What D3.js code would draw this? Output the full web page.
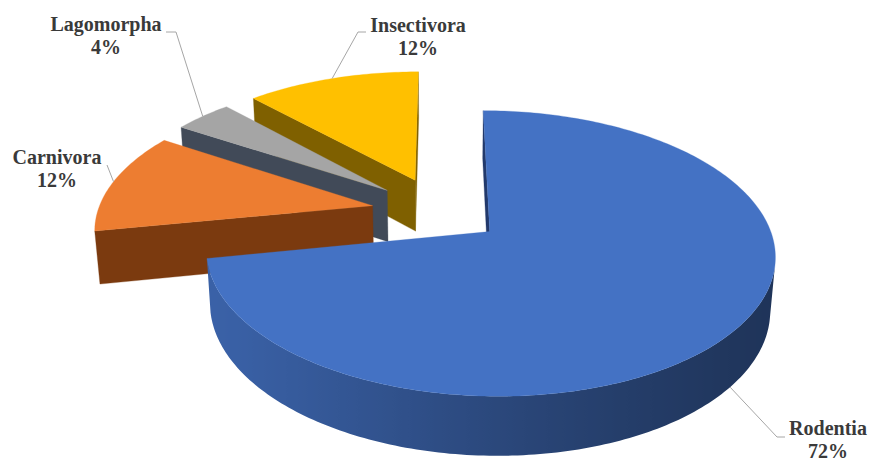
<!DOCTYPE html>
<html>
<head>
<meta charset="utf-8">
<script src="https://cdn.jsdelivr.net/npm/d3@7"></script>
<style>
  html, body { margin: 0; padding: 0; background: #ffffff; }
  svg { display: block; }
</style>
</head>
<body>
<svg id="chart" width="869" height="463"></svg>
<script>
// ---- data ----
const categories = ["Rodentia", "Carnivora", "Lagomorpha", "Insectivora"];
const shares = [72, 12, 4, 12];
const shareLabels = ["72%", "12%", "4%", "12%"];

// ---- style ----
const topColors = ["#4472C4", "#ED7D31", "#A5A5A5", "#FFC000"];
const faceColors = ["#22396b", "#7b3a0f", "#414a58", "#7f6000"];
const explode = [0.225, 0.255, 0.26, 0.265];   // radial offset of each slice (unit radius)

// perspective camera for a pie of unit radius lying flat (Z toward viewer, Y = depth of the disc)
const cam = { x0: 441, y0: 212, a: 275, b: 133.5, p: 0.15, t: 53, g: 0.015 };
function project(X, Z, Y) {
  const w = 1 - cam.p * Z + cam.g * Y;
  return [cam.x0 + cam.a * X / w, cam.y0 + (cam.b * Z + cam.t * Y) / w];
}

// label placement
const labelLayout = [
  { x: 828, y: 435, anchorDepth: 1, path: [[777, 437], [785, 437]] },
  { x: 57,  y: 164, anchorDepth: 0, path: [[107, 165]] },
  { x: 106, y: 31,  anchorDepth: 0, path: [[176, 32], [166, 32]] },
  { x: 418, y: 32,  anchorDepth: 0, path: [[358, 32], [366, 32]] }
];

const svg = d3.select("#chart");
const defs = svg.append("defs");
const line = d3.line();

const arcs = d3.pie().sort(null).value(d => d)(shares);

const slices = arcs.map((d, i) => {
  const am = (d.startAngle + d.endAngle) / 2;
  const e = explode[i];
  return { i, a0: d.startAngle, a1: d.endAngle, am,
           ox: e * Math.sin(am), oz: -e * Math.cos(am) };
});

function rimPoint(s, th) {
  return { X: s.ox + Math.sin(th), Z: s.oz - Math.cos(th) };
}

function shoelace(poly) {
  let s = 0;
  for (let k = 0; k < poly.length; k++) {
    const p = poly[k], q = poly[(k + 1) % poly.length];
    s += p[0] * q[1] - q[0] * p[1];
  }
  return s / 2;
}

function shade(hex, th) {
  const f = 0.45 + 0.4 * Math.pow((1 + Math.cos(th - 250 * Math.PI / 180)) / 2, 2);
  const c = d3.rgb(hex);
  return d3.rgb(c.r * f, c.g * f, c.b * f).formatHex();
}

const gSlices = svg.append("g");
let gradId = 0;

// draw one run of outer wall segments as a single shaded band
function drawWall(g, s, run) {
  if (!run.length) return;
  const topPts = [run[0].P, ...run.map(r => r.Q)].map(p => project(p.X, p.Z, 0));
  const botPts = [run[0].P, ...run.map(r => r.Q)].map(p => project(p.X, p.Z, 1));
  const poly = topPts.concat(botPts.slice().reverse());
  const xs = poly.map(p => p[0]);
  const xmin = d3.min(xs), xmax = d3.max(xs);
  const id = "wall" + (gradId++);
  const grad = defs.append("linearGradient")
    .attr("id", id).attr("gradientUnits", "userSpaceOnUse")
    .attr("x1", xmin).attr("y1", 0).attr("x2", xmax).attr("y2", 0);
  const span = Math.max(1e-6, xmax - xmin);
  const stops = run.map(r => {
    const th = (r.P.th + r.Q.th) / 2;
    const x = (project(r.P.X, r.P.Z, 0)[0] + project(r.Q.X, r.Q.Z, 0)[0]) / 2;
    return { off: (x - xmin) / span, col: shade(topColors[s.i], th) };
  }).sort((u, v) => u.off - v.off);
  stops.forEach(st => grad.append("stop")
    .attr("offset", Math.min(1, Math.max(0, st.off)))
    .attr("stop-color", st.col));
  g.append("path")
    .attr("d", line(poly) + "Z")
    .attr("fill", "url(#" + id + ")");
}

// back slices first
slices.slice().sort((u, v) => u.oz - v.oz).forEach(s => {
  const g = gSlices.append("g").attr("class", "slice " + categories[s.i]);
  const n = Math.max(8, Math.ceil((s.a1 - s.a0) / (Math.PI / 180)));
  const apex = { X: s.ox, Z: s.oz, th: null };
  const rim = d3.range(n + 1).map(k => {
    const th = s.a0 + (s.a1 - s.a0) * k / n;
    return Object.assign(rimPoint(s, th), { th });
  });
  const outline = [apex, ...rim, apex];

  let run = [];
  for (let k = 0; k < outline.length - 1; k++) {
    const P = outline[k], Q = outline[k + 1];
    const quad = [project(P.X, P.Z, 0), project(Q.X, Q.Z, 0),
                  project(Q.X, Q.Z, 1), project(P.X, P.Z, 1)];
    const visible = shoelace(quad) < 0;
    const radial = (k === 0 || k === outline.length - 2);
    if (radial) {
      drawWall(g, s, run); run = [];
      if (visible) {
        g.append("path")
          .attr("d", line(quad) + "Z")
          .attr("fill", faceColors[s.i])
          .attr("stroke", faceColors[s.i])
          .attr("stroke-width", 0.3)
          .attr("stroke-linejoin", "round");
      }
    } else if (visible) {
      run.push({ P, Q });
    } else {
      drawWall(g, s, run); run = [];
    }
  }
  drawWall(g, s, run);

  // top face
  const top = [apex, ...rim].map(p => project(p.X, p.Z, 0));
  g.append("path")
    .attr("d", line(top) + "Z")
    .attr("fill", topColors[s.i])
    .attr("stroke", topColors[s.i])
    .attr("stroke-width", 0.3);
});

// leader lines and labels
const gLabels = svg.append("g");
slices.forEach(s => {
  const L = labelLayout[s.i];
  const rp = rimPoint(s, s.am);
  const anchor = project(rp.X, rp.Z, L.anchorDepth);
  gLabels.append("path")
    .attr("d", line([anchor, ...L.path]))
    .attr("fill", "none")
    .attr("stroke", "#a6a6a6")
    .attr("stroke-width", 1);

  const t = gLabels.append("text")
    .attr("text-anchor", "middle")
    .attr("font-family", "'Liberation Serif', 'Times New Roman', serif")
    .attr("font-weight", "bold")
    .attr("font-size", 20)
    .attr("fill", "#3a3a3a");
  t.append("tspan").attr("x", L.x).attr("y", L.y).text(categories[s.i]);
  t.append("tspan").attr("x", L.x).attr("y", L.y + 23).text(shareLabels[s.i]);
});
</script>
</body>
</html>
